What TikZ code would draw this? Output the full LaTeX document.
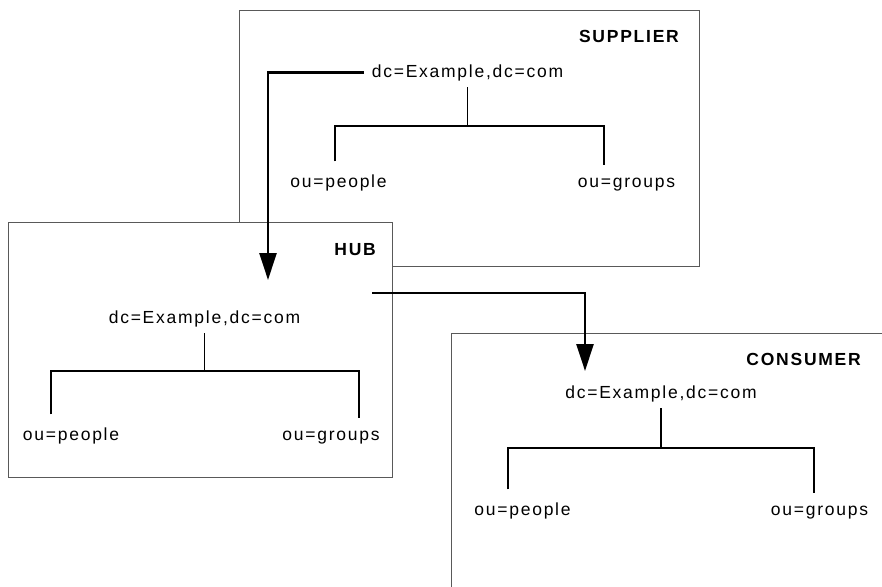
\documentclass[tikz,border=0pt]{standalone}
\usepackage{fontspec}
\setmainfont{Liberation Sans}[LetterSpace=10]
\usetikzlibrary{arrows.meta}

\tikzset{
  panel/.style={draw=black!65, line width=1pt, fill=white},
  title/.style={font=\fontsize{17.5}{20}\selectfont\bfseries, inner sep=0pt, anchor=base east},
  entry/.style={font=\fontsize{17.5}{20}\selectfont, inner sep=0pt, anchor=base},
  rootentry/.style={entry, outer ysep=6.5pt, outer xsep=8pt},
  leafentry/.style={entry, outer ysep=13pt},
  tree/.style={line width=1.6pt, black},
  repl/.style={line width=2.6pt, black, -{Triangle[length=27pt, width=17pt]}}
}

\begin{document}
\begin{tikzpicture}[x=1pt, y=-1pt]
\useasboundingbox (0,0) rectangle (882,586);

% supplier panel
\draw[panel] (239,11) rectangle (699,266);
\node[title] at (679,43) {SUPPLIER};
\node[rootentry] (sroot) at (467.5,77) {dc=Example,dc=com};
\node[leafentry] (speople) at (338.5,187) {ou=people};
\node[leafentry] (sgroups) at (626.5,187) {ou=groups};
\coordinate (sbl) at (335,126);
\coordinate (sbr) at (604,126);
\draw[tree] (sroot.south) -- (sroot.south |- sbl);
\draw[tree] (sbl |- speople.north) -- (sbl) -- (sbr) -- (sbr |- sgroups.north);

% hub panel
\draw[panel] (8,222) rectangle (392,477);
\node[title] at (376,255) {HUB};
\node[rootentry] (hroot) at (204.5,323) {dc=Example,dc=com};
\node[leafentry] (hpeople) at (71,440) {ou=people};
\node[leafentry] (hgroups) at (331,440) {ou=groups};
\coordinate (hbl) at (51,371);
\coordinate (hbr) at (359,371);
\draw[tree] (hroot.south) -- (hroot.south |- hbl);
\draw[tree] (hbl |- hpeople.north) -- (hbl) -- (hbr) -- (hbr |- hgroups.north);

% consumer panel, running off the page edge
\begin{scope}
\clip (0,0) rectangle (882,586);
\draw[panel] (451,333) rectangle (900,610);
\end{scope}
\node[title] at (861,365) {CONSUMER};
\node[rootentry] (croot) at (661,398) {dc=Example,dc=com};
\node[leafentry] (cpeople) at (522.5,515) {ou=people};
\node[leafentry] (cgroups) at (819.5,515) {ou=groups};
\coordinate (cbl) at (508,448);
\coordinate (cbr) at (814,448);
\draw[tree] (croot.south) -- (croot.south |- cbl);
\draw[tree] (cbl |- cpeople.north) -- (cbl) -- (cbr) -- (cbr |- cgroups.north);

% replication arrows
\coordinate (hubin) at (268,280);
\coordinate (hubout) at (372,293);
\coordinate (consin) at (585,371);
\draw[repl] (sroot.west) -| (hubin);
\draw[repl] (hubout) -| (consin);
\end{tikzpicture}
\end{document}
